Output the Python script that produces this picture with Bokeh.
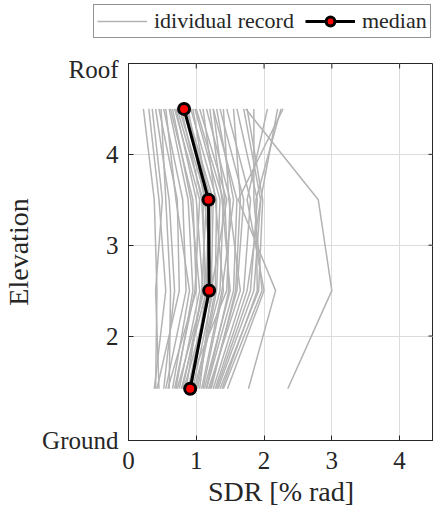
from bokeh.plotting import figure
from bokeh.models import Range1d, FixedTicker, Legend, LegendItem
from bokeh.embed import file_html
from bokeh.resources import INLINE

# storey mid-heights (y positions of each storey drift value)
levels = [1.42, 2.5, 3.5, 4.5]

# individual records: SDR [% rad] per storey (one entry per record)
sdr_storey1 = [0.40, 0.38, 0.45, 0.52, 0.42, 0.60, 0.55, 0.65, 0.70, 0.58, 0.75, 0.68, 0.80, 0.72, 0.85,
               0.78, 0.88, 0.92, 0.82, 0.95, 0.90, 1.00, 0.93, 1.02, 0.97, 1.05, 1.10, 0.86, 1.12, 1.15,
               1.08, 1.20, 1.18, 1.25, 1.22, 1.30, 1.28, 1.35, 1.40, 1.46, 1.32, 1.38, 1.77, 2.35, 1.15]
sdr_storey2 = [0.42, 0.55, 0.40, 0.68, 0.75, 0.62, 0.85, 0.90, 0.95, 1.00, 1.05, 0.98, 1.10, 1.12, 1.08,
               1.15, 1.18, 1.20, 1.22, 1.25, 1.19, 1.28, 1.15, 1.30, 1.35, 1.22, 1.40, 1.45, 1.50, 1.55,
               1.38, 1.60, 1.65, 1.70, 1.58, 1.80, 1.75, 1.92, 1.97, 2.00, 1.85, 1.90, 2.17, 3.00, 1.48]
sdr_storey3 = [0.38, 0.45, 0.50, 0.60, 0.72, 0.55, 0.80, 0.70, 0.88, 0.95, 0.92, 1.05, 1.00, 1.10, 1.15,
               1.08, 1.20, 1.18, 1.25, 1.12, 1.22, 1.30, 1.18, 1.35, 1.40, 1.45, 1.28, 1.50, 1.38, 1.60,
               1.55, 1.70, 1.48, 1.80, 1.65, 1.90, 1.95, 1.98, 1.85, 1.75, 1.95, 1.88, 1.62, 2.80, 1.42]
sdr_storey4 = [0.22, 0.30, 0.35, 0.40, 0.45, 0.48, 0.52, 0.55, 0.60, 0.62, 0.65, 0.68, 0.70, 0.72, 0.75,
               0.78, 0.80, 0.82, 0.85, 0.88, 0.83, 0.92, 0.95, 0.98, 1.00, 1.05, 1.10, 1.15, 1.20, 1.25,
               1.30, 1.35, 1.40, 1.45, 1.55, 1.60, 1.70, 1.75, 1.85, 2.05, 2.20, 2.25, 2.28, 1.73, 1.25]

median_sdr = [0.91, 1.19, 1.18, 0.82]

x_ticks = [0, 1, 2, 3, 4]
y_ticks = [0.85, 2, 3, 4, 5]
y_tick_labels = {0.85: "Ground", 2: "2", 3: "3", 4: "4", 5: "Roof"}

X_MIN, X_MAX = 0, 4.5
Y_MIN, Y_MAX = 0.85, 5

FONT = "Liberation Serif"
TXT = "#262626"
GRAY = "#b3b3b3"
W = 433

xs = [list(r) for r in zip(sdr_storey1, sdr_storey2, sdr_storey3, sdr_storey4)]
ys = [levels for _ in xs]

# ---------------- main chart ----------------
FRAME_H = 377
p = figure(width=W, height=461, output_backend="svg", toolbar_location=None,
           x_range=Range1d(X_MIN, X_MAX), y_range=Range1d(Y_MIN, Y_MAX),
           min_border_left=128, min_border_right=0, min_border_top=8, min_border_bottom=76)
p.background_fill_color = "white"
p.border_fill_color = "white"
p.outline_line_color = TXT
p.outline_line_width = 1

p.xgrid.ticker = FixedTicker(ticks=x_ticks)
p.ygrid.ticker = FixedTicker(ticks=y_ticks)
p.grid.grid_line_color = "#dcdcdc"
p.grid.grid_line_width = 1

p.multi_line(xs, ys, line_color=GRAY, line_width=1.5)
p.line(median_sdr, levels, line_color="black", line_width=3)
p.scatter(median_sdr, levels, size=11, fill_color="red", line_color="black", line_width=3)

# inward ticks on the top and right edges of the box
tx = [t for t in x_ticks if X_MIN < t < X_MAX]
ty = [t for t in y_ticks if Y_MIN < t < Y_MAX]
dy = (Y_MAX - Y_MIN) * 5 / FRAME_H
dx = (X_MAX - X_MIN) * 5 / 305
p.segment(x0=tx, y0=[Y_MAX] * len(tx), x1=tx, y1=[Y_MAX - dy] * len(tx), line_color=TXT, line_width=1)
p.segment(x0=[X_MAX] * len(ty), y0=ty, x1=[X_MAX - dx] * len(ty), y1=ty, line_color=TXT, line_width=1)

xa = p.xaxis[0]
xa.ticker = FixedTicker(ticks=x_ticks)
ya = p.yaxis[0]
ya.ticker = FixedTicker(ticks=y_ticks)
ya.major_label_overrides = y_tick_labels
for ax in (xa, ya):
    ax.axis_line_color = TXT
    ax.major_tick_line_color = TXT
    ax.major_tick_in = 5
    ax.major_tick_out = 0
    ax.minor_tick_line_color = None
    ax.major_label_text_font = FONT
    ax.major_label_text_font_size = "25px"
    ax.major_label_text_color = TXT
    ax.axis_label_text_font = FONT
    ax.axis_label_text_font_size = "28px"
    ax.axis_label_text_font_style = "normal"
    ax.axis_label_text_color = TXT
xa.major_label_standoff = 11
xa.axis_label = "SDR [% rad]"
xa.axis_label_standoff = 4
ya.major_label_standoff = 10
ya.axis_label = "Elevation"
ya.axis_label_standoff = 5

# ---------------- legend strip (above) ----------------
pl = figure(width=W, height=55, output_backend="svg", toolbar_location=None,
            x_range=Range1d(0, 1), y_range=Range1d(0, 1),
            x_axis_location=None, y_axis_location=None,
            min_border_left=0, min_border_right=0, min_border_top=0, min_border_bottom=0)
pl.outline_line_color = None
pl.grid.visible = False
pl.border_fill_color = "white"
# legend-only renderers: their points lie outside this strip's range, only the legend glyphs show
lg_rec = pl.line(x=[2, 3], y=[2, 3], line_color=GRAY, line_width=1.5)
lg_med_line = pl.line(x=[2, 3], y=[2, 3], line_color="black", line_width=3)
lg_med_pts = pl.scatter(x=[2, 3], y=[2, 3], size=11, fill_color="red", line_color="black", line_width=3)
legend = Legend(items=[LegendItem(label="idividual record", renderers=[lg_rec]),
                       LegendItem(label="median", renderers=[lg_med_line, lg_med_pts])],
                location=(93, 17), orientation="horizontal",
                label_text_font=FONT, label_text_font_size="22px", label_text_color=TXT,
                glyph_width=50, glyph_height=22, label_standoff=7, spacing=11, padding=3,
                margin=0, border_line_color=TXT, border_line_width=1,
                background_fill_color="white", background_fill_alpha=1)
pl.add_layout(legend)

open("out.html", "w").write(file_html([pl, p], INLINE))
